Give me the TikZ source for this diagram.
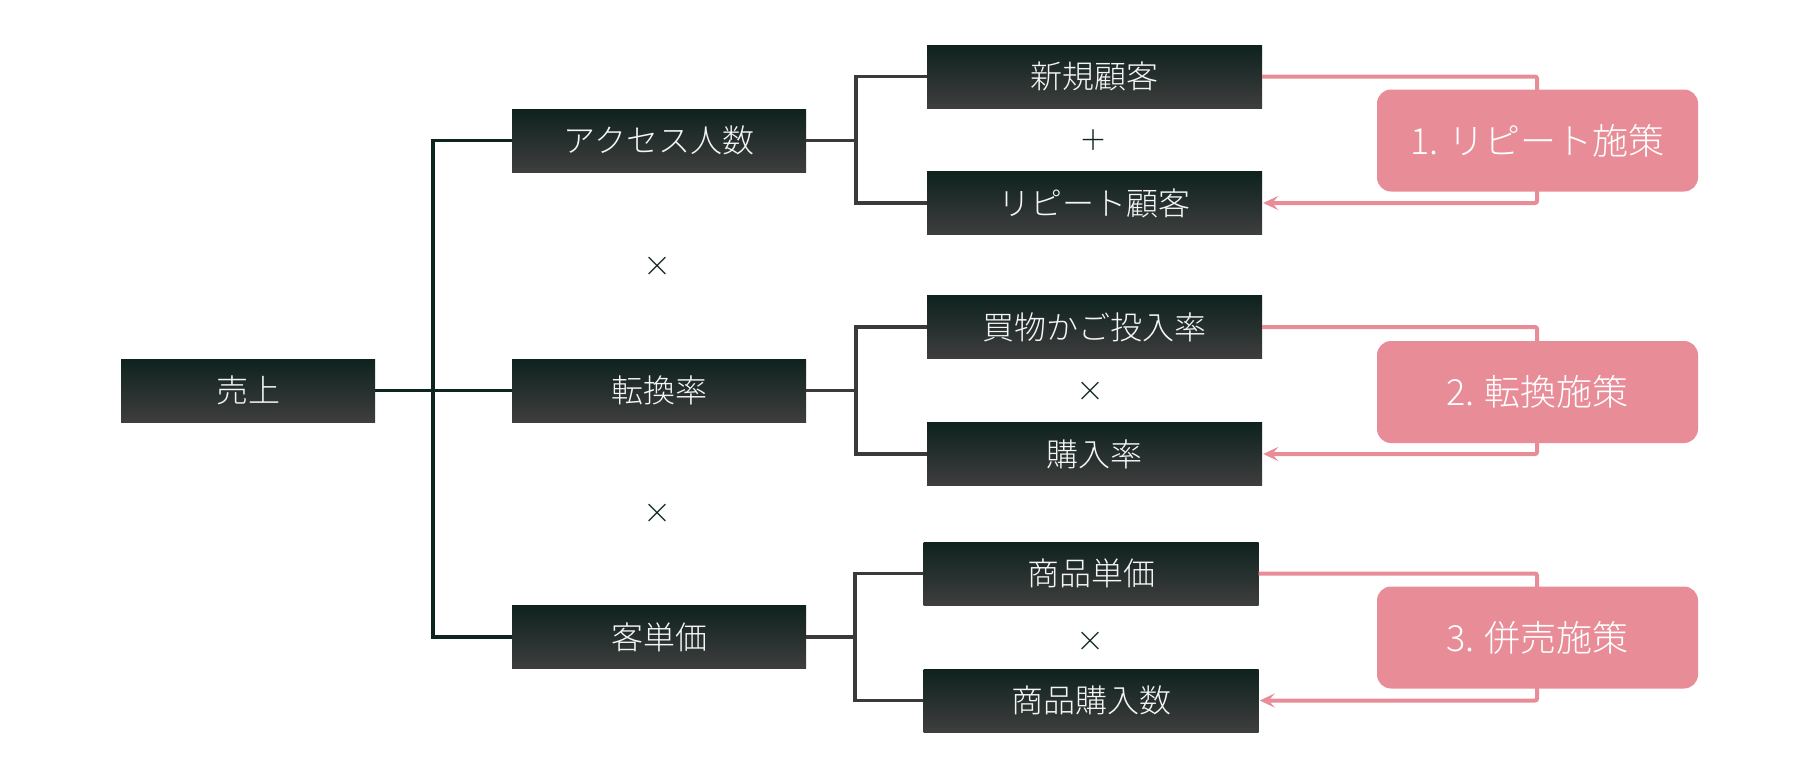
\documentclass[tikz,border=0pt]{standalone}
\usepackage{fontspec}
\setmainfont{Noto Sans CJK JP}[UprightFont=* Light]
\usetikzlibrary{arrows.meta}
\definecolor{boxtop}{RGB}{14,34,30}
\definecolor{boxbot}{RGB}{62,62,62}
\definecolor{treec}{RGB}{13,36,32}
\definecolor{brc}{RGB}{58,58,58}
\definecolor{pinkc}{RGB}{232,141,152}
\definecolor{txtc}{RGB}{245,245,245}
\tikzset{
  kbox/.style={minimum height=63pt, inner sep=0pt, top color=boxtop, bottom color=boxbot, text=txtc, font=\fontsize{32}{32}\selectfont},
  wA/.style={minimum width=254pt},
  wB/.style={minimum width=294pt},
  wC/.style={minimum width=335pt},
  pbox/.style={fill=pinkc, rounded corners=14pt, minimum width=321pt, minimum height=102pt, inner sep=0pt, text=white, font=\fontsize{36}{36}\selectfont},
  op/.style={text=treec, font=\fontsize{28}{28}\selectfont, inner sep=0pt},
  tree/.style={draw=treec, line width=3.3pt},
  brk/.style={draw=brc, line width=3.5pt},
  pl/.style={draw=pinkc, line width=4pt, rounded corners=2pt},
}
\begin{document}
\begin{tikzpicture}[x=1pt,y=-1pt]
\useasboundingbox (0,0) rectangle (1805,764);
% left and middle column
\node[kbox,wA] (uri) at (248,390.5) {売上};
\node[kbox,wB] (acc) at (659,140.5) {アクセス人数};
\node[kbox,wB] (ten) at (659,390.5) {転換率};
\node[kbox,wB] (kya) at (659,637) {客単価};
% right column
\node[kbox,wC] (shi) at (1094.5,76.5) {新規顧客};
\node[kbox,wC] (rep) at (1094.5,203) {リピート顧客};
\node[kbox,wC] (kai) at (1094.5,327) {買物かご投入率};
\node[kbox,wC] (kon) at (1094.5,454) {購入率};
\node[kbox,wC] (sht) at (1091,573.5) {商品単価};
\node[kbox,wC] (shk) at (1091,700.5) {商品購入数};
% operators
\node[op] (o1) at (1093,140) {＋};
\node[op] (o2) at (657,267) {×};
\node[op] (o3) at (657,514) {×};
\node[op] (o4) at (1090,392) {×};
\node[op] (o5) at (1090,642) {×};
% main tree
\coordinate (j0) at (433,390.5);
\draw[tree] (uri.east) -- (ten.west);
\draw[tree] (acc.west) -| (j0) |- (kya.west);
% brackets
\coordinate (b1) at (856,140.5);
\coordinate (b2) at (856,390.5);
\coordinate (b3) at (855,637);
\draw[brk] (acc.east) -- (b1);
\draw[brk] (shi.west) -| (b1) |- (rep.west);
\draw[brk] (ten.east) -- (b2);
\draw[brk] (kai.west) -| (b2) |- (kon.west);
\draw[brk] (kya.east) -- (b3);
\draw[brk] (sht.west) -| (b3) |- (shk.west);
% pink loops
\coordinate (p1) at (1537,140);
\coordinate (p2) at (1537,391);
\coordinate (p3) at (1537,637);
\draw[pl,-{Stealth[length=15pt,width=14pt,inset=6pt]}] (shi.east) -| (p1) |- ([xshift=1pt]rep.east);
\draw[pl,-{Stealth[length=15pt,width=14pt,inset=6pt]}] (kai.east) -| (p2) |- ([xshift=1pt]kon.east);
\draw[pl,-{Stealth[length=15pt,width=14pt,inset=6pt]}] (sht.east) -| (p3) |- ([xshift=1pt]shk.east);
\node[pbox] (m1) at (1537.5,140.5) {1. リピート施策};
\node[pbox] (m2) at (1537.5,392) {2. 転換施策};
\node[pbox] (m3) at (1537.5,637.5) {3. 併売施策};
\end{tikzpicture}
\end{document}
